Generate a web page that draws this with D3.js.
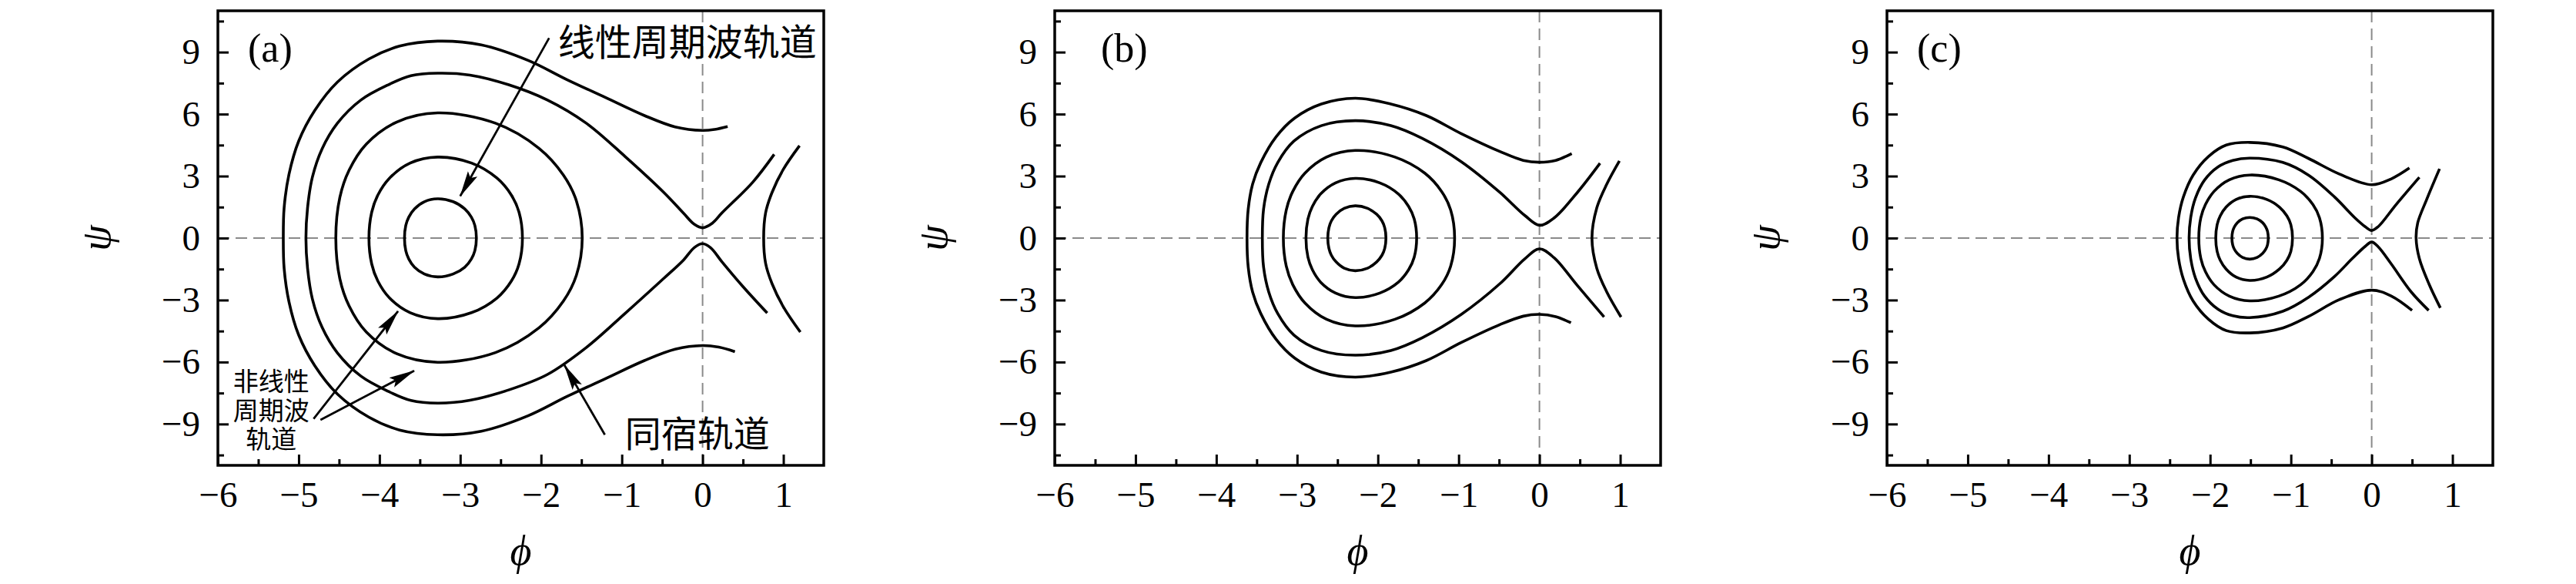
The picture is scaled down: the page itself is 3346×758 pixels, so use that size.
<!DOCTYPE html>
<html>
  <head>
    <meta charset="utf-8" />
    <title>phase portraits</title>
    <script src="https://cdn.jsdelivr.net/npm/d3@7"></script>
    <style>
      body { margin: 0; background: #fff; }
    </style>
  </head>
  <body>
    <svg id="chart" width="3346" height="758"></svg>
    <script>
      // axes
      const xDomain = [-6, 1.5];
      const yDomain = [-11, 11];
      const xTicks = [-6, -5, -4, -3, -2, -1, 0, 1];
      const xMinor = [-5.5, -4.5, -3.5, -2.5, -1.5, -0.5, 0.5];
      const yTicks = [-9, -6, -3, 0, 3, 6, 9];
      const yMinor = [-10.5, -7.5, -4.5, -1.5, 1.5, 4.5, 7.5, 10.5];
      const panelLabels = ["(a)", "(b)", "(c)"];

      // (a) closed orbits, [phi, psi]
      const loopsA = [
        [[-3.69,0],[-3.674,0.61],[-3.637,1.01],[-3.567,1.41],[-3.444,1.76],[-3.28,1.9],[-3.088,1.76],[-2.944,1.41],[-2.862,1.01],[-2.819,0.61],[-2.80,0],
         [-2.819,-0.61],[-2.862,-1.01],[-2.944,-1.41],[-3.088,-1.74],[-3.28,-1.88],[-3.444,-1.74],[-3.567,-1.41],[-3.637,-1.01],[-3.674,-0.61]],
        [[-4.13,0],[-4.096,1.25],[-4.02,2.08],[-3.875,2.90],[-3.62,3.63],[-3.28,3.92],[-2.86,3.63],[-2.545,2.90],[-2.367,2.08],[-2.272,1.25],[-2.23,0],
         [-2.272,-1.25],[-2.367,-2.08],[-2.545,-2.90],[-2.86,-3.61],[-3.28,-3.90],[-3.62,-3.61],[-3.875,-2.90],[-4.02,-2.08],[-4.096,-1.25]],
        [[-4.54,0],[-4.49,1.97],[-4.376,3.28],[-4.162,4.55],[-3.784,5.62],[-3.28,6.06],[-2.564,5.56],[-2.027,4.35],[-1.723,3.05],[-1.562,1.80],[-1.49,0],
         [-1.562,-1.80],[-1.723,-3.05],[-2.027,-4.35],[-2.564,-5.54],[-3.28,-6.01],[-3.784,-5.60],[-4.162,-4.55],[-4.376,-3.28],[-4.49,-1.97]]
      ];
      // (a) open orbits: homoclinic, outer, right branch
      const pathsA = [
        [[0.886,4.05],[0.62,2.70],[0.24,1.22],[0.12,0.72],[0,0.50],[-0.10,0.66],[-0.24,1.22],[-0.48,2.21],[-0.96,3.95],[-1.44,5.56],[-1.92,6.68],[-2.40,7.42],[-2.88,7.89],[-3.28,7.98],
         [-3.61,7.86],[-3.89,7.42],[-4.23,6.68],[-4.52,5.56],[-4.71,4.32],[-4.83,2.95],[-4.89,1.46],[-4.91,0],
         [-4.89,-1.46],[-4.83,-2.95],[-4.71,-4.32],[-4.52,-5.56],[-4.23,-6.68],[-3.89,-7.42],[-3.61,-7.86],[-3.28,-7.99],[-2.88,-7.85],[-2.40,-7.35],[-1.92,-6.60],[-1.44,-5.30],
         [-0.96,-3.65],[-0.48,-1.95],[-0.24,-1.08],[-0.10,-0.45],[0,-0.27],[0.10,-0.47],[0.24,-1.15],[0.50,-2.35],[0.80,-3.63]],
        [[0.31,5.40],[0.15,5.26],[0,5.21],[-0.34,5.38],[-0.72,5.93],[-1.20,6.80],[-1.68,7.67],[-2.16,8.60],[-2.74,9.35],[-3.28,9.53],[-3.75,9.29],[-4.13,8.67],[-4.52,7.55],
         [-4.80,6.18],[-5.00,4.69],[-5.12,3.08],[-5.18,1.46],[-5.19,0],[-5.18,-1.46],[-5.12,-3.08],[-5.00,-4.69],[-4.80,-6.18],[-4.52,-7.55],[-4.13,-8.67],[-3.75,-9.29],
         [-3.28,-9.52],[-2.74,-9.35],[-2.16,-8.60],[-1.68,-7.67],[-1.20,-6.80],[-0.72,-5.93],[-0.34,-5.38],[0,-5.20],[0.20,-5.28],[0.40,-5.50]],
        [[1.20,4.47],[1.00,3.33],[0.86,2.21],[0.78,1.22],[0.756,0],[0.78,-1.22],[0.86,-2.21],[1.00,-3.33],[1.21,-4.55]]
      ];

      // (b)
      const loopsB = [
        [[-2.62,0],[-2.606,0.50],[-2.576,0.83],[-2.518,1.15],[-2.416,1.44],[-2.28,1.56],[-2.128,1.44],[-2.014,1.15],[-1.949,0.83],[-1.915,0.50],[-1.90,0],
         [-1.915,-0.50],[-1.949,-0.83],[-2.014,-1.15],[-2.128,-1.46],[-2.28,-1.58],[-2.416,-1.46],[-2.518,-1.15],[-2.576,-0.83],[-2.606,-0.50]],
        [[-2.89,0],[-2.866,0.92],[-2.811,1.53],[-2.707,2.14],[-2.524,2.67],[-2.28,2.89],[-1.976,2.67],[-1.748,2.14],[-1.619,1.53],[-1.55,0.92],[-1.52,0],
         [-1.55,-0.92],[-1.619,-1.53],[-1.748,-2.14],[-1.976,-2.66],[-2.28,-2.88],[-2.524,-2.66],[-2.707,-2.14],[-2.811,-1.53],[-2.866,-0.92]],
        [[-3.17,0],[-3.134,1.36],[-3.054,2.25],[-2.903,3.14],[-2.636,3.92],[-2.28,4.24],[-1.788,3.92],[-1.419,3.14],[-1.21,2.25],[-1.099,1.36],[-1.05,0],
         [-1.099,-1.36],[-1.21,-2.25],[-1.419,-3.14],[-1.788,-3.93],[-2.28,-4.25],[-2.636,-3.93],[-2.903,-3.14],[-3.054,-2.25],[-3.134,-1.36]]
      ];
      const pathsB = [
        [[0.75,3.62],[0.47,2.21],[0.18,0.97],[0,0.62],[-0.18,1.09],[-0.49,2.21],[-0.97,3.70],[-1.45,4.82],[-1.84,5.44],[-2.28,5.68],[-2.70,5.44],[-3.04,4.69],[-3.24,3.65],
         [-3.35,2.62],[-3.415,1.40],[-3.43,0],[-3.415,-1.40],[-3.35,-2.62],[-3.24,-3.65],[-3.04,-4.69],[-2.70,-5.44],[-2.28,-5.67],[-1.84,-5.44],[-1.45,-4.82],[-0.97,-3.70],
         [-0.49,-2.21],[-0.18,-1.0],[0,-0.52],[0.18,-0.95],[0.47,-2.30],[0.80,-3.82]],
        [[0.40,4.09],[0.20,3.76],[0,3.67],[-0.20,3.76],[-0.49,4.19],[-0.97,5.06],[-1.40,5.93],[-1.84,6.49],[-2.28,6.77],[-2.70,6.49],[-3.03,5.81],[-3.26,4.90],[-3.45,3.65],
         [-3.55,2.62],[-3.605,1.40],[-3.62,0],[-3.605,-1.40],[-3.55,-2.62],[-3.45,-3.65],[-3.26,-4.90],[-3.03,-5.81],[-2.70,-6.49],[-2.28,-6.73],[-1.84,-6.49],[-1.40,-5.93],
         [-0.97,-5.06],[-0.49,-4.19],[-0.20,-3.78],[0,-3.69],[0.20,-3.80],[0.39,-4.10]],
        [[0.99,3.73],[0.83,2.58],[0.71,1.46],[0.65,0],[0.71,-1.46],[0.83,-2.58],[1.01,-3.82]]
      ];

      // (c)
      const loopsC = [
        [[-1.73,0],[-1.721,0.32],[-1.701,0.53],[-1.664,0.74],[-1.598,0.925],[-1.51,1.0],[-1.418,0.925],[-1.349,0.74],[-1.31,0.53],[-1.289,0.32],[-1.28,0],
         [-1.289,-0.32],[-1.31,-0.53],[-1.349,-0.74],[-1.418,-0.94],[-1.51,-1.02],[-1.598,-0.94],[-1.664,-0.74],[-1.701,-0.53],[-1.721,-0.32]],
        [[-1.93,0],[-1.913,0.65],[-1.875,1.07],[-1.804,1.49],[-1.678,1.87],[-1.51,2.02],[-1.298,1.87],[-1.139,1.49],[-1.049,1.07],[-1.001,0.65],[-0.98,0],
         [-1.001,-0.65],[-1.049,-1.07],[-1.139,-1.49],[-1.298,-1.89],[-1.51,-2.05],[-1.678,-1.89],[-1.804,-1.49],[-1.875,-1.07],[-1.913,-0.65]],
        [[-2.14,0],[-2.115,0.98],[-2.058,1.62],[-1.951,2.26],[-1.762,2.82],[-1.51,3.05],[-1.15,2.82],[-0.88,2.26],[-0.727,1.62],[-0.646,0.98],[-0.61,0],
         [-0.646,-0.98],[-0.727,-1.62],[-0.88,-2.26],[-1.15,-2.81],[-1.51,-3.04],[-1.762,-2.81],[-1.951,-2.26],[-2.058,-1.62],[-2.115,-0.98]]
      ];
      const pathsC = [
        [[0.59,2.94],[0.30,1.61],[0.08,0.55],[0,0.37],[-0.08,0.55],[-0.21,0.99],[-0.46,1.99],[-0.78,3.04],[-1.10,3.66],[-1.51,3.87],[-1.72,3.76],[-1.90,3.45],[-2.07,2.80],
         [-2.18,1.95],[-2.24,1.00],[-2.26,0],[-2.24,-1.00],[-2.18,-1.95],[-2.07,-2.80],[-1.90,-3.45],[-1.72,-3.76],[-1.51,-3.85],[-1.10,-3.54],[-0.78,-2.86],[-0.46,-1.86],
         [-0.24,-0.99],[-0.08,-0.40],[0,-0.19],[0.08,-0.42],[0.24,-1.24],[0.49,-2.61],[0.705,-3.50]],
        [[0.467,3.39],[0.24,2.86],[0,2.58],[-0.40,3.10],[-0.78,3.85],[-1.10,4.41],[-1.51,4.63],[-1.80,4.50],[-2.02,3.95],[-2.21,3.05],[-2.33,2.00],[-2.39,1.00],[-2.41,0],
         [-2.39,-1.00],[-2.33,-2.00],[-2.21,-3.05],[-2.02,-3.93],[-1.80,-4.48],[-1.51,-4.59],[-1.10,-4.35],[-0.78,-3.79],[-0.40,-2.98],[0,-2.52],[0.24,-2.80],[0.50,-3.50]],
        [[0.84,3.35],[0.68,1.86],[0.57,0.74],[0.55,0],[0.59,-0.99],[0.71,-2.23],[0.85,-3.38]]
      ];

      // annotations of (a), in data units
      const noteLinear = { text: "线性周期波轨道", at: [-1.79, 9.62] };
      const noteHomo = { text: "同宿轨道", at: [-0.96, -9.34] };
      const noteNonlin = { lines: ["非线性", "周期波", "轨道"], at: [-5.34, -6.95] };
      const arrowsA = [
        [[-1.90, 9.68], [-3.00, 2.03]],
        [[-1.21, -9.52], [-1.71, -6.15]],
        [[-4.815, -8.75], [-3.77, -3.54]],
        [[-4.73, -8.80], [-3.57, -6.42]]
      ];

      const panels = [
        { left: 283, labelDx: 39, loops: loopsA, paths: pathsA },
        { left: 1370, labelDx: 60, loops: loopsB, paths: pathsB },
        { left: 2451, labelDx: 39, loops: loopsC, paths: pathsC }
      ];

      const W = 787;
      const H = 590;
      const TOP = 14;
      const serif = "'Liberation Serif', 'DejaVu Serif', serif";
      const cjk = "'Noto Sans CJK SC', sans-serif";
      // primary font with a short line box; the CJK glyphs fall back to Noto
      const cjkTight = "'Liberation Serif', 'Noto Sans CJK SC', sans-serif";
      const fmt = d => (d < 0 ? "\u2212" + Math.abs(d) : String(d));

      const svg = d3.select("#chart");
      svg.append("rect").attr("width", 3346).attr("height", 758).attr("fill", "#fff");

      svg
        .append("defs")
        .append("marker")
        .attr("id", "head")
        .attr("markerUnits", "userSpaceOnUse")
        .attr("markerWidth", 34)
        .attr("markerHeight", 16)
        .attr("refX", 33)
        .attr("refY", 8)
        .attr("orient", "auto")
        .append("path")
        .attr("d", "M0,1 L34,8 L0,15 L6,8 Z")
        .attr("fill", "#000");

      panels.forEach((p, i) => {
        const g = svg.append("g").attr("transform", "translate(" + p.left + "," + TOP + ")");
        const x = d3.scaleLinear().domain(xDomain).range([0, W]);
        const y = d3.scaleLinear().domain(yDomain).range([H, 0]);

        g.append("clipPath").attr("id", "clip" + i)
          .append("rect").attr("width", W).attr("height", H);
        const plot = g.append("g").attr("clip-path", "url(#clip" + i + ")");

        // zero lines
        plot.append("line")
          .attr("x1", 0).attr("x2", W).attr("y1", y(0)).attr("y2", y(0))
          .attr("stroke", "#8a8a8a").attr("stroke-width", 2).attr("stroke-dasharray", "15,8");
        plot.append("line")
          .attr("x1", x(0)).attr("x2", x(0)).attr("y1", 0).attr("y2", H)
          .attr("stroke", "#8a8a8a").attr("stroke-width", 2).attr("stroke-dasharray", "15,8");

        const closed = d3.line().x(d => x(d[0])).y(d => y(d[1])).curve(d3.curveCatmullRomClosed.alpha(0.5));
        const open = d3.line().x(d => x(d[0])).y(d => y(d[1])).curve(d3.curveCatmullRom.alpha(0.5));

        plot.selectAll("path.loop").data(p.loops).enter().append("path")
          .attr("class", "loop").attr("d", closed)
          .attr("fill", "none").attr("stroke", "#000").attr("stroke-width", 3.6);
        plot.selectAll("path.open").data(p.paths).enter().append("path")
          .attr("class", "open").attr("d", open)
          .attr("fill", "none").attr("stroke", "#000").attr("stroke-width", 3.6)
          .attr("stroke-linecap", "butt");

        // ticks, inward
        const styleAxis = (sel, labels) => {
          sel.select(".domain").remove();
          sel.selectAll(".tick line").attr("stroke", "#000").attr("stroke-width", 3);
          if (labels) {
            sel.selectAll(".tick text")
              .attr("font-family", serif).attr("font-size", 47).attr("fill", "#000");
          } else {
            sel.selectAll(".tick text").remove();
          }
        };
        g.append("g").attr("transform", "translate(0," + H + ")")
          .call(d3.axisBottom(x).tickValues(xTicks).tickSize(-14).tickPadding(21).tickFormat(fmt))
          .call(s => styleAxis(s, true));
        g.append("g").attr("transform", "translate(0," + H + ")")
          .call(d3.axisBottom(x).tickValues(xMinor).tickSize(-8).tickFormat(""))
          .call(s => styleAxis(s, false));
        g.append("g")
          .call(d3.axisLeft(y).tickValues(yTicks).tickSize(-14).tickPadding(23).tickFormat(fmt))
          .call(s => styleAxis(s, true));
        g.append("g")
          .call(d3.axisLeft(y).tickValues(yMinor).tickSize(-8).tickFormat(""))
          .call(s => styleAxis(s, false));

        g.append("rect").attr("width", W).attr("height", H)
          .attr("fill", "none").attr("stroke", "#000").attr("stroke-width", 3.5);

        // axis titles
        g.append("text")
          .attr("x", W / 2).attr("y", 733 - TOP)
          .attr("text-anchor", "middle")
          .attr("font-family", serif).attr("font-style", "italic").attr("font-size", 54)
          .text("\u03D5");
        g.append("text")
          .attr("transform", "translate(-140," + y(0) + ") rotate(-90)")
          .attr("text-anchor", "middle")
          .attr("font-family", serif).attr("font-style", "italic").attr("font-size", 54)
          .text("\u03C8");

        g.append("text")
          .attr("x", p.labelDx).attr("y", 80 - TOP)
          .attr("font-family", serif).attr("font-size", 52)
          .text(panelLabels[i]);

        if (i === 0) {
          const ann = g.append("g");
          ann.selectAll("line").data(arrowsA).enter().append("line")
            .attr("x1", d => x(d[0][0])).attr("y1", d => y(d[0][1]))
            .attr("x2", d => x(d[1][0])).attr("y2", d => y(d[1][1]))
            .attr("stroke", "#000").attr("stroke-width", 2.8)
            .attr("marker-end", "url(#head)");

          ann.append("text")
            .attr("x", x(noteLinear.at[0])).attr("y", y(noteLinear.at[1]))
            .attr("dominant-baseline", "central")
            .attr("font-family", cjk).attr("font-size", 48)
            .text(noteLinear.text);
          ann.append("text")
            .attr("x", x(noteHomo.at[0])).attr("y", y(noteHomo.at[1]))
            .attr("dominant-baseline", "central")
            .attr("font-family", cjk).attr("font-size", 47)
            .text(noteHomo.text);

          // three stacked lines
          ann.selectAll("text.nl").data(noteNonlin.lines).enter().append("text")
            .attr("class", "nl")
            .attr("x", x(noteNonlin.at[0]))
            .attr("y", (d, k) => y(noteNonlin.at[1]) + k * 37.5 + 12)
            .attr("text-anchor", "middle")
            .attr("font-family", cjkTight).attr("font-size", 33)
            .text(d => d);
        }
      });
    </script>
  </body>
</html>
